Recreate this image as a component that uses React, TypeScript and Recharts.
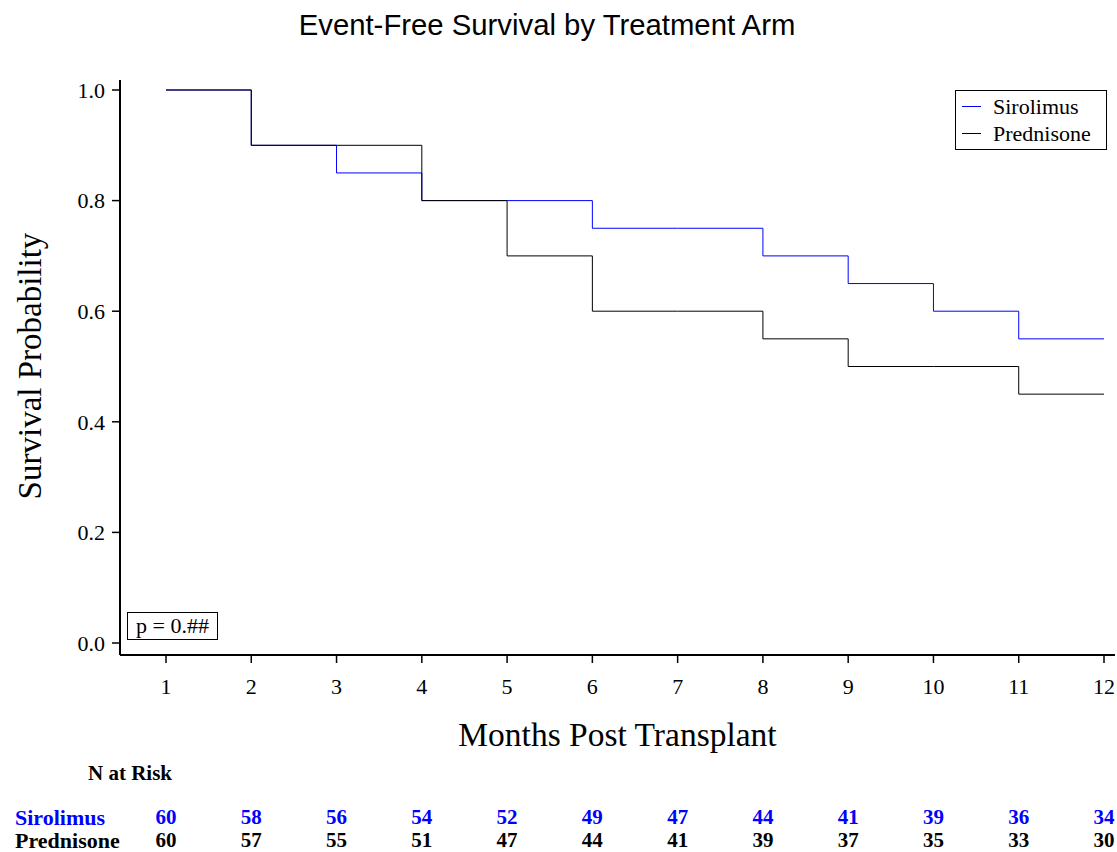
import { LineChart, Line, XAxis, YAxis } from 'recharts';

// Kaplan-Meier style step data
const months = [1, 2, 3, 4, 5, 6, 7, 8, 9, 10, 11, 12];
const sirolimus = [1.0, 0.9, 0.85, 0.8, 0.8, 0.75, 0.75, 0.7, 0.65, 0.6, 0.55, 0.55];
const prednisone = [1.0, 0.9, 0.9, 0.8, 0.7, 0.6, 0.6, 0.55, 0.5, 0.5, 0.45, 0.45];
const yTicks = [0, 0.2, 0.4, 0.6, 0.8, 1.0];

// numbers at risk under each month
const sirolimusAtRisk = [60, 58, 56, 54, 52, 49, 47, 44, 41, 39, 36, 34];
const prednisoneAtRisk = [60, 57, 55, 51, 47, 44, 41, 39, 37, 35, 33, 30];

const BLUE = '#0000ff';
const SERIF = '"Liberation Serif", "Times New Roman", serif';
const SANS = '"Liberation Sans", Arial, sans-serif';

const data = months.map((m, i) => ({
  month: m,
  sirolimus: sirolimus[i],
  prednisone: prednisone[i],
}));

const RiskTick = (props: any) => {
  const { x, y, payload } = props;
  const i = months.indexOf(payload.value);
  return (
    <g fontFamily={SERIF} fontSize={21} fontWeight="bold" textAnchor="middle">
      <text x={x} y={y + 74} fill={BLUE}>{sirolimusAtRisk[i]}</text>
      <text x={x} y={y + 97} fill="#000">{prednisoneAtRisk[i]}</text>
    </g>
  );
};

const legendItems = [
  { name: 'Sirolimus', color: BLUE },
  { name: 'Prednisone', color: '#000' },
];

const App = () => {
  return (
    <div style={{ position: 'absolute', left: 0, top: 0, width: 1117, height: 852, background: '#fff' }}>
      <div
        style={{
          position: 'absolute',
          top: 8,
          left: 0,
          width: 1094,
          textAlign: 'center',
          fontFamily: SANS,
          fontSize: 29.3,
        }}
      >
        Event-Free Survival by Treatment Arm
      </div>

      <LineChart
        width={1117}
        height={852}
        data={data}
        margin={{ top: 80, right: 2, left: 60, bottom: 7 }}
      >
        <XAxis
          dataKey="month"
          type="number"
          domain={[1, 12]}
          ticks={months}
          padding={{ left: 46, right: 11 }}
          height={95}
          tickSize={8}
          tickMargin={15}
          axisLine={{ stroke: '#000', strokeWidth: 2 }}
          tickLine={{ stroke: '#000', strokeWidth: 1.5 }}
          tick={{ fill: '#000', fontFamily: SERIF, fontSize: 22 }}
          label={{ value: 'Months Post Transplant', position: 'insideBottom', offset: 4, fill: '#000', fontFamily: SERIF, fontSize: 33.5 }}
        />
        <XAxis
          xAxisId="risk"
          dataKey="month"
          type="number"
          domain={[1, 12]}
          ticks={months}
          padding={{ left: 46, right: 11 }}
          height={95}
          tickSize={0}
          tickMargin={0}
          axisLine={false}
          tickLine={false}
          tick={<RiskTick />}
        />
        <XAxis
          xAxisId="top"
          orientation="top"
          dataKey="month"
          type="number"
          domain={[1, 12]}
          height={0}
          tick={false}
          tickLine={false}
          axisLine={{ stroke: '#000', strokeWidth: 2 }}
        />
        <YAxis
          type="number"
          domain={[0, 1]}
          ticks={yTicks}
          padding={{ top: 10, bottom: 12 }}
          width={60}
          tickSize={8}
          tickMargin={7}
          tickFormatter={(v: number) => v.toFixed(1)}
          axisLine={{ stroke: '#000', strokeWidth: 2 }}
          tickLine={{ stroke: '#000', strokeWidth: 1.5 }}
          tick={{ fill: '#000', fontFamily: SERIF, fontSize: 22 }}
        />
        <YAxis
          yAxisId="right"
          orientation="right"
          width={0}
          tick={false}
          tickLine={false}
          axisLine={{ stroke: '#000', strokeWidth: 2 }}
        />
        <Line
          type="stepAfter"
          dataKey="sirolimus"
          name="Sirolimus"
          stroke={BLUE}
          strokeWidth={1}
          dot={false}
          isAnimationActive={false}
        />
        <Line
          type="stepAfter"
          dataKey="prednisone"
          name="Prednisone"
          stroke="#000"
          strokeWidth={1}
          dot={false}
          isAnimationActive={false}
        />
      </LineChart>

      {/* legend */}
      <div
        style={{
          position: 'absolute',
          left: 955,
          top: 90,
          width: 152,
          height: 60,
          boxSizing: 'border-box',
          border: '1.5px solid #000',
          fontFamily: SERIF,
          fontSize: 22,
          lineHeight: '27px',
          padding: '2px 0 0 6px',
          background: '#fff',
        }}
      >
        {legendItems.map((it) => (
          <div key={it.name} style={{ display: 'flex', alignItems: 'center' }}>
            <span style={{ display: 'inline-block', width: 19, borderTop: `1px solid ${it.color}`, marginRight: 12 }} />
            <span>{it.name}</span>
          </div>
        ))}
      </div>

      {/* y axis title */}
      <div
        style={{
          position: 'absolute',
          left: 30,
          top: 366,
          transform: 'translate(-50%, -50%) rotate(-90deg)',
          whiteSpace: 'nowrap',
          fontFamily: SERIF,
          fontSize: 33,
        }}
      >
        Survival Probability
      </div>

      {/* p value box */}
      <div
        style={{
          position: 'absolute',
          left: 127,
          top: 612,
          width: 91,
          height: 28,
          boxSizing: 'border-box',
          border: '1.5px solid #000',
          textAlign: 'center',
          fontFamily: SERIF,
          fontSize: 22,
          lineHeight: '25px',
          background: '#fff',
        }}
      >
        p = 0.##
      </div>

      {/* number at risk labels */}
      <div style={{ position: 'absolute', left: 88, top: 761, fontFamily: SERIF, fontSize: 21, fontWeight: 'bold' }}>
        N at Risk
      </div>
      <div style={{ position: 'absolute', left: 15, top: 805, fontFamily: SERIF, fontSize: 22, fontWeight: 'bold', color: BLUE }}>
        Sirolimus
      </div>
      <div style={{ position: 'absolute', left: 15, top: 828, fontFamily: SERIF, fontSize: 22, fontWeight: 'bold' }}>
        Prednisone
      </div>
    </div>
  );
};

export default App;
